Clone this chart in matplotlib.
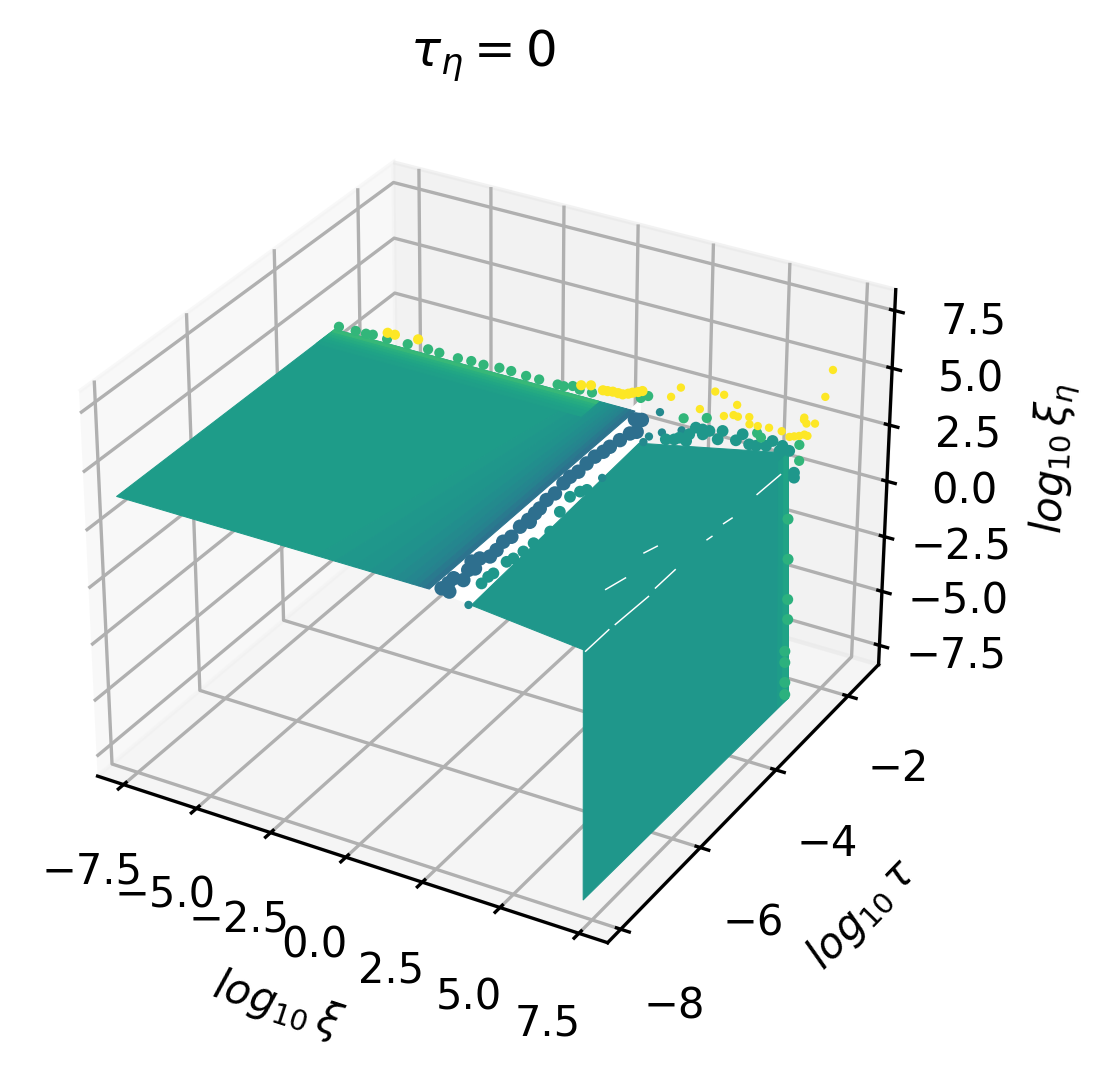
import matplotlib
matplotlib.use('Agg')
import matplotlib.pyplot as plt
from mpl_toolkits.mplot3d.art3d import Poly3DCollection
W,H=1112,1077
S=908
xlim=(-8.4,8.4); ylim=(-8.32,-1.12); zlim=(-8.4,8.4)
cv=plt.get_cmap('viridis')

# regions of the dense cloud (log xi, log tau, log xi_eta)
left_front_edges=[-8,-1.4,-0.8,-0.2,0.3,0.75,1.1,1.4,1.65,1.85,2.05,2.2]
left_back_edges=[-8,0.5,0.75,1.0,1.2,1.38,1.53,1.67,1.8,1.92,2.05,2.2]
left_vals=[.55,.54,.53,.52,.505,.49,.475,.46,.44,.41,.38]
left_y=(-7.9,-2.9)
left_z=3.5
back_y_edges=[-3.35,-3.25,-3.17,-3.1,-3.03,-2.97,-2.9]
back_y_vals=[.56,.575,.59,.61,.635,.67]
back_x=(-8,1.0)
right_plane=[(3.3,-7.74,3.0),(7.1,-7.96,3.0),(6.91,-2.64,3.0),(2.9,-3.34,3.0)]
wall_x=6.98
wall_y=[-7.89,-7.83,-2.49,-2.73]
wall_z=[2.86,-8.04,-8.24,3.17]
wall_strip_y=[(-2.79,-8.15,.55),(-2.65,-8.2,.58)]
gap=[(2.02,-7.74,3.2),(1.83,-2.47,3.2),(3.07,-3.44,3.2),(3.46,-7.83,3.2)]
cracks=[((7.18,-7.98),(7.18,-7.43)),((7.2,-7.29),(7.27,-6.54)),((7.22,-6.33),(7.22,-5.84)),
        ((6.08,-6.65),(6.25,-6.3)),((6.04,-5.68),(6.18,-5.46)),((7.21,-5.03),(7.24,-4.93)),
        ((7.19,-4.59),(7.25,-4.42)),((7.24,-3.76),(7.29,-3.18))]

yellow_edge=[(1.83,-2.40),(1.63,-2.50),(1.43,-2.60),(1.10,-2.60),(0.81,-2.63),(0.36,-2.59),(0.11,-2.65),(-5.49,-2.61),(-6.49,-2.65),(-6.24,-2.65),(1.75,-2.45),(1.55,-2.55),(1.28,-2.60),(0.95,-2.62)]
yellow_sky=[(3.99,-3.14),(4.01,-3.41),(4.95,-3.02),(5.26,-3.04),(5.06,-3.51),(5.86,-3.19),(5.84,-3.52),(6.05,-3.44),(6.20,-3.45),(6.49,-3.39),(6.69,-3.55),(6.94,-3.54),(7.26,-3.51),(7.66,-3.51),(7.85,-3.07),(8.06,-3.19),(8.27,-3.14),(7.81,-2.47),(7.27,-1.80),(8.21,-3.51),(8.41,-3.46),(8.00,-3.59),(8.30,-3.45),(8.10,-3.55),(7.90,-3.12)]
green_pts=[(3.65,-2.77),(4.22,-2.62),(7.68,-3.02),(5.89,-2.65),(6.11,-2.73),(1.99,-2.57),(2.12,-2.48),(7.26,-2.66),(-4.91,-2.78),(-4.51,-2.79),(-3.86,-2.80),(-3.43,-2.78),(-2.50,-2.76),(-2.10,-2.76),(-1.57,-2.78),(-1.13,-2.78),(-0.51,-2.78),(-0.08,-2.72),(-7.95,-2.82),(-7.38,-2.81),(-7.02,-2.81),(-6.81,-2.79),(-6.3,-2.8),(-5.6,-2.79),(-3.0,-2.79),(-0.3,-2.78),(0.2,-2.76),(0.6,-2.75)]
wall_green=[(-2.62,-5.89),(-2.61,-6.42),(-2.59,-7.37),(-2.58,-7.95),(-2.59,-3.58),(-2.57,-4.52),(-2.62,-1.72),(-2.66,0.13)]
teal_dark=[(2.69,-2.62),(3.32,-3.07),(3.11,-3.24),(3.13,-3.40),(3.75,-2.90),(3.38,-7.85),(3.12,-4.44)]
teal_edge=[(3.61,-3.20),(3.82,-3.15),(4.16,-3.11),(4.03,-2.75),(4.25,-2.75),(4.46,-2.74),(4.79,-2.66),(4.90,-2.88),(5.38,-2.61),(5.38,-2.79),(6.03,-2.79),(6.31,-2.58),(6.69,-2.63),(6.99,-2.70),(7.69,-3.16),(7.82,-3.27),(5.82,-2.80),(4.05,-2.94),(4.39,-2.86),(3.90,-3.08),(6.28,-2.73),(6.75,-2.76),(2.96,-4.87),(3.08,-4.79),(3.03,-5.42),(3.34,-5.89),(3.26,-6.23),(3.24,-6.46),(3.12,-6.77),(3.19,-6.66),(3.12,-7.08),(3.09,-7.18),(3.11,-7.35),(2.86,-5.04)]
blue_pts=[(2.30,-7.68),(2.32,-7.54),(2.31,-7.41),(2.57,-7.70),(2.59,-7.39),(2.43,-7.16),(2.28,-6.97),(2.39,-6.86),(2.55,-7.09),(2.58,-6.76),(2.56,-6.59),(2.49,-6.38),(2.55,-6.23),(2.48,-5.97),(2.49,-5.78),(2.47,-5.60),(2.45,-5.47),(2.38,-5.25),(2.40,-5.06),(2.32,-4.79),(2.30,-4.61),(2.36,-4.45),(2.33,-4.22),(2.34,-4.02),(2.41,-3.86),(2.43,-3.71),(2.49,-3.50),(2.55,-3.29),(2.67,-3.21),(2.37,-2.93),(2.27,-2.94),(2.46,-2.91),(2.58,-5.81)]

fig=plt.figure(figsize=(W/300,H/300),dpi=300)
ax=fig.add_axes([29/W,(H-(92+S))/H,S/W,S/H],projection='3d',computed_zorder=False)
ax.set_xlim(*xlim);ax.set_ylim(*ylim);ax.set_zlim(*zlim)
ax.set_xticks([-7.5,-5,-2.5,0,2.5,5,7.5]);ax.set_zticks([-7.5,-5,-2.5,0,2.5,5,7.5]);ax.set_yticks([-8,-6,-4,-2])
ax.set_xlabel(r'$log_{10}\,\xi$');ax.set_ylabel(r'$log_{10}\,\tau$');ax.set_zlabel(r'$log_{10}\,\xi_\eta$')
ax.set_title(r'$\tau_\eta = 0$')

def poly(v,c,zo):
    col=cv(c) if isinstance(c,float) else c
    ax.add_collection3d(Poly3DCollection([v],facecolor=col,edgecolor=col,linewidth=0.25,zorder=zo),autolim=False)
poly(gap,'white',2)
poly(right_plane,.53,3)
poly(list(zip([wall_x]*4,wall_y,wall_z)),.53,4)
for i,(y0,z0,c) in enumerate(wall_strip_y):
    poly([(wall_x,y0,z0),(wall_x,wall_y[2],wall_z[2]),(wall_x,wall_y[3],wall_z[3]),(wall_x,y0-0.2,wall_z[3])],c,4.5+i*.01)
for i,c in enumerate(left_vals):
    poly([(left_front_edges[i],left_y[0],left_z),(left_front_edges[i+1],left_y[0],left_z),
          (left_back_edges[i+1],left_y[1],left_z),(left_back_edges[i],left_y[1],left_z)],c,5+i*.01)
for i,c in enumerate(back_y_vals):
    a,b=back_y_edges[i],back_y_edges[i+1]
    poly([(back_x[0],a,left_z),(back_x[1],a,left_z),(back_x[1],b,left_z),(back_x[0],b,left_z)],c,6+i*.01)
for p,q in cracks:
    ax.plot([p[0],q[0]],[p[1],q[1]],[3.0,3.0],color='white',lw=0.35,zorder=7)

def pts(l,z,c,s,zo):
    ax.scatter([a for a,_ in l],[b for _,b in l],[z]*len(l),c=[c]*len(l),cmap='viridis',vmin=0,vmax=1,s=s,linewidths=0,depthshade=False,zorder=zo)
pts(teal_dark,3.2,.47,4,8)
pts(teal_edge,3.2,.53,8,8)
pts(blue_pts,3.2,.36,12,8)
pts(green_pts,3.5,.66,6,9)
pts(yellow_edge,3.5,1.0,6,10)
pts(yellow_sky,5.5,1.0,4,10)
ax.scatter([wall_x]*len(wall_green),[a for a,_ in wall_green],[b for _,b in wall_green],c=[.64]*len(wall_green),cmap='viridis',vmin=0,vmax=1,s=7,linewidths=0,depthshade=False,zorder=9)
fig.savefig('out.png',dpi=300)
